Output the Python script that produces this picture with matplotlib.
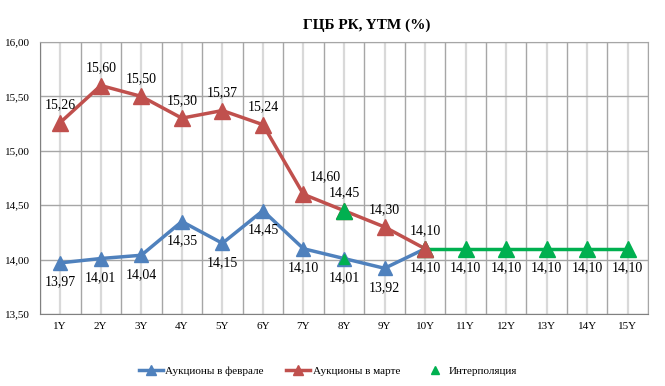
import matplotlib
matplotlib.use("Agg")
import matplotlib.pyplot as plt
from matplotlib.lines import Line2D
import numpy as np

plt.rcParams['font.family'] = ['Liberation Serif', 'DejaVu Serif']

# data
tenors = ["1Y", "2Y", "3Y", "4Y", "5Y", "6Y", "7Y", "8Y", "9Y", "10Y",
          "11Y", "12Y", "13Y", "14Y", "15Y"]
feb = [13.97, 14.01, 14.04, 14.35, 14.15, 14.45, 14.10, 14.01, 13.92, 14.10]
mar = [15.26, 15.60, 15.50, 15.30, 15.37, 15.24, 14.60, 14.45, 14.30, 14.10]
interp = [14.10, 14.10, 14.10, 14.10, 14.10, 14.10]   # 10Y..15Y
interp_idx = [9, 10, 11, 12, 13, 14]
interp_pts_idx = [7]        # 8Y points on both curves are interpolated

blue = "#4F81BD"
red = "#C0504D"
green = "#00B050"

fig = plt.figure(figsize=(6.65, 3.86), dpi=100)
ax = fig.add_axes([40/665, 1 - 314/386, 608/665, 272/386])

x = np.arange(len(tenors))

# grid
ax.set_xlim(-0.5, len(tenors) - 0.5)
ax.set_ylim(13.5, 16.0)
ax.set_yticks(np.arange(13.5, 16.01, 0.5))
ax.set_yticklabels([f"{v:.2f}".replace(".", ",") for v in np.arange(13.5, 16.01, 0.5)])
ax.set_xticks(x)
ax.set_xticklabels(tenors)
ax.set_xticks(np.arange(-0.5, len(tenors), 1), minor=True)
ax.grid(axis="y", which="major", color="#a6a6a6", lw=1.0)
ax.grid(axis="x", which="major", color="#d9d9d9", lw=1.6)
ax.grid(axis="x", which="minor", color="#a6a6a6", lw=1.0)
ax.set_axisbelow(True)
ax.tick_params(which="both", length=0, labelsize=8, pad=6)
ax.tick_params(axis="y", pad=7)
for s in ax.spines.values():
    s.set_color("#a6a6a6")
ax.spines["left"].set_color("#808080")
ax.spines["bottom"].set_color("#808080")

# lines
ax.plot(x[:len(feb)], feb, color=blue, lw=2.5, marker="^", ms=10, zorder=3)
ax.plot(x[:len(mar)], mar, color=red, lw=2.5, marker="^", ms=11, zorder=3)
ax.plot(x[interp_idx], interp, color=green, lw=2.5, marker="^", ms=11, zorder=4)
ax.plot(x[interp_idx[0]], mar[interp_idx[0]], color=red, marker="^", ms=11, zorder=5)
for i in interp_pts_idx:
    ax.plot(x[i], mar[i], color=green, marker="^", ms=11, ls="none", zorder=5)
    ax.plot(x[i], feb[i], color=green, marker="^", ms=7, ls="none", zorder=5)

def fmt(v):
    return f"{v:.2f}".replace(".", ",")

lab_fs = 10
for i, v in enumerate(feb):
    ax.annotate(fmt(v), (x[i], v), xytext=(0, -9), textcoords="offset points",
                ha="center", va="top", fontsize=lab_fs)
for i, v in enumerate(mar):
    dx = 16 if i == 6 else 0
    ax.annotate(fmt(v), (x[i], v), xytext=(dx, 8), textcoords="offset points",
                ha="center", va="bottom", fontsize=lab_fs)
for i, v in zip(interp_idx[1:], interp[1:]):
    ax.annotate(fmt(v), (x[i], v), xytext=(0, -9), textcoords="offset points",
                ha="center", va="top", fontsize=lab_fs)

fig.text(367/665, 1 - 25/386, "ГЦБ РК, YTM (%)", ha="center", va="center",
         fontsize=11, fontweight="bold")

handles = [
    Line2D([], [], color=blue, lw=2.5, marker="^", ms=7),
    Line2D([], [], color=red, lw=2.5, marker="^", ms=7),
    Line2D([], [], color=green, lw=0, marker="^", ms=6),
]
fig.legend(handles, ["Аукционы в феврале", "Аукционы в марте", "Интерполяция"],
           loc="center", bbox_to_anchor=(328/665, 1 - 371/386), ncol=3,
           frameon=False, fontsize=8, handlelength=2.2, handletextpad=0.2,
           columnspacing=2.0)

fig.savefig("out.png", dpi=100)
